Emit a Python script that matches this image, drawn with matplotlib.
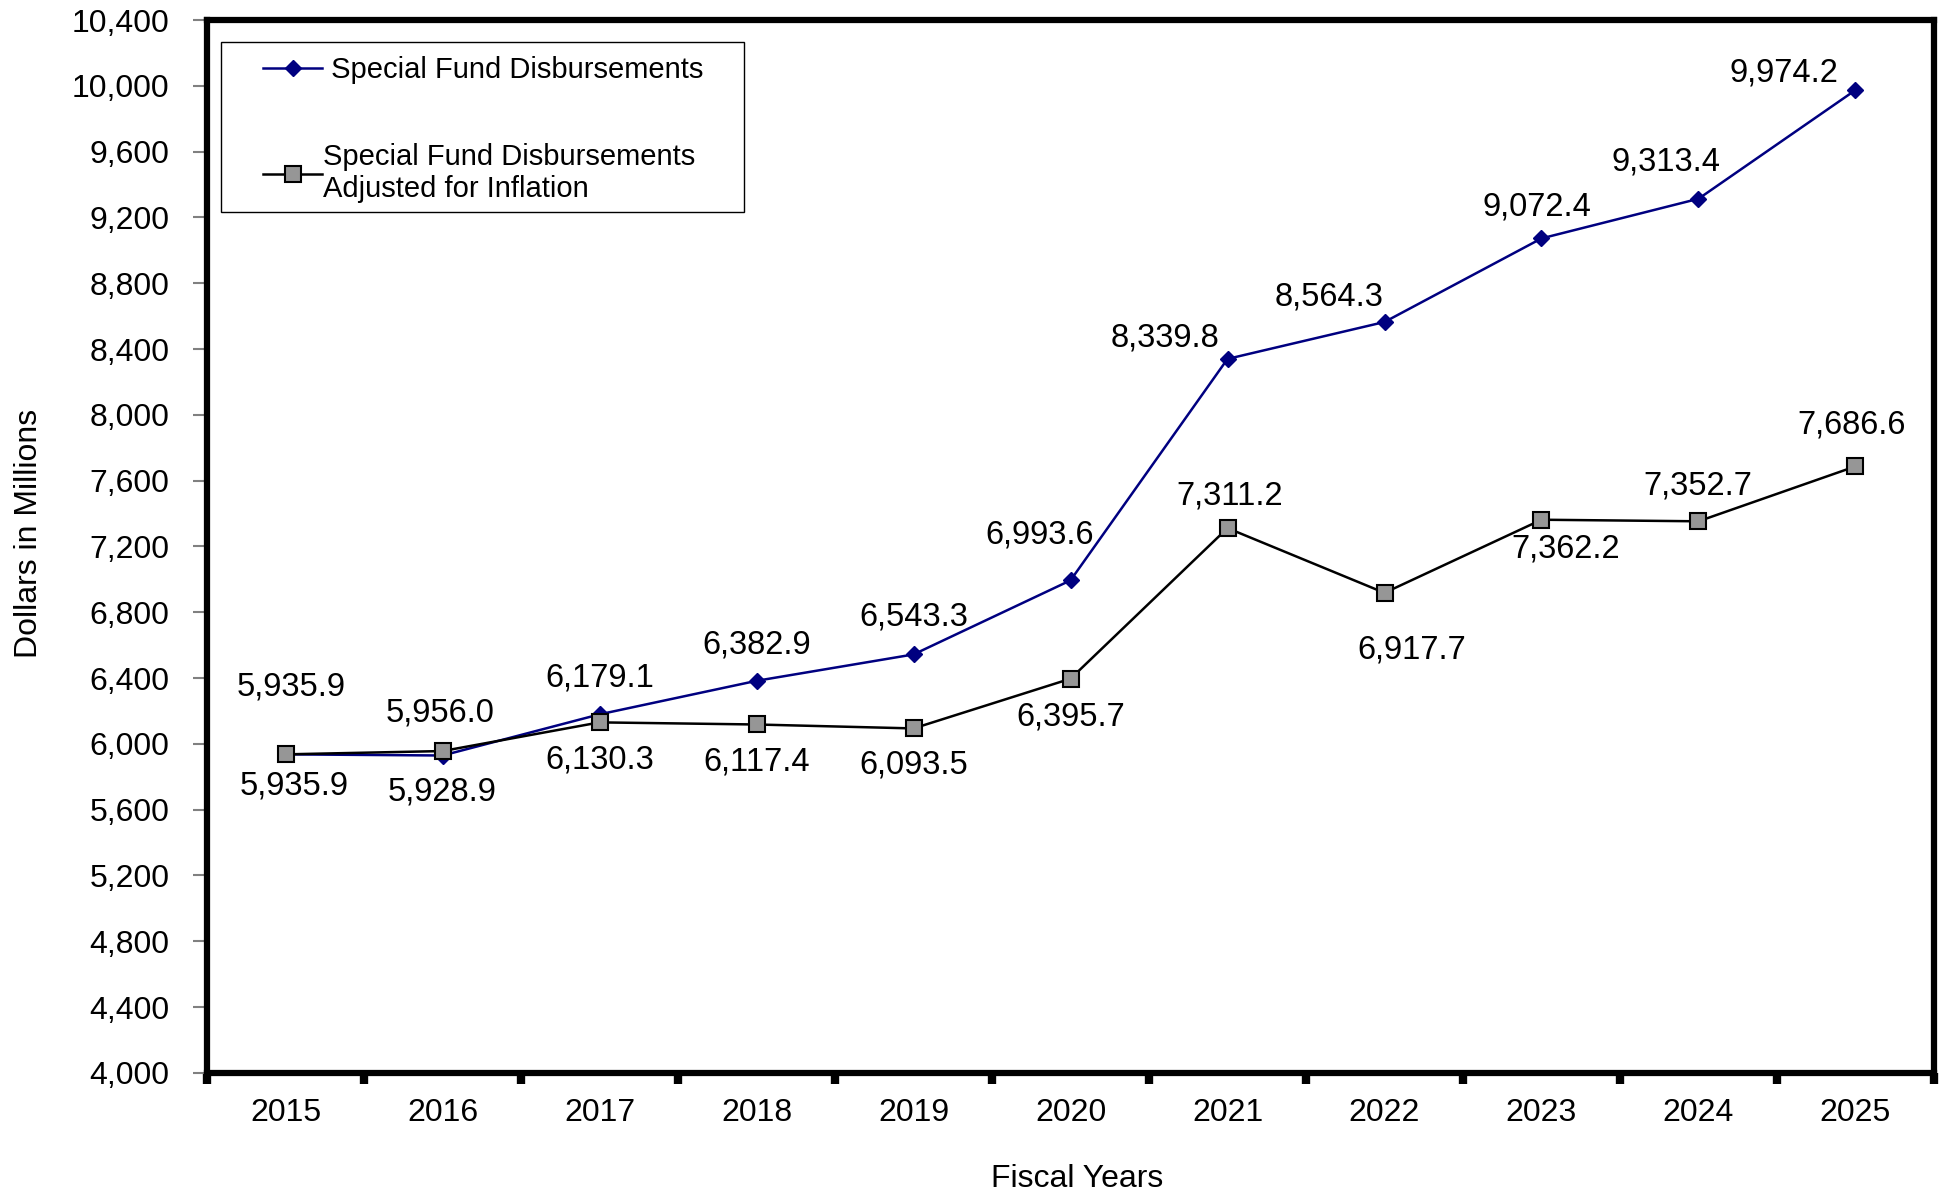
import numpy as np
import matplotlib.pyplot as plt
from matplotlib.patches import Rectangle
from matplotlib.ticker import FuncFormatter, MultipleLocator, FixedLocator

plt.rcParams['font.family'] = ['Liberation Sans', 'DejaVu Sans']

years = ['2015', '2016', '2017', '2018', '2019', '2020', '2021', '2022', '2023', '2024', '2025']
disb = [5935.9, 5928.9, 6179.1, 6382.9, 6543.3, 6993.6, 8339.8, 8564.3, 9072.4, 9313.4, 9974.2]
disb_adj = [5935.9, 5956.0, 6130.3, 6117.4, 6093.5, 6395.7, 7311.2, 6917.7, 7362.2, 7352.7, 7686.6]

# label offsets in pixels (dx, dy)
off_disb = [(6, 67), (0, -36), (0, 36), (0, 36), (0, 37), (-31, 45), (-63, 21),
            (-55, 25), (-5, 31), (-32, 37), (-72, 17)]
off_adj = [(9, -32), (-2, 38), (0, -38), (0, -38), (0, -37), (0, -38), (2, 32),
           (27, -57), (24, -29), (-1, 35), (-4, 41)]

fig = plt.figure(figsize=(19.48, 11.92), dpi=100)
ax = fig.add_axes([0.1063, 0.1, 0.8865, 0.8832])

x = np.arange(len(years))
ax.plot(x, disb, color='#000080', lw=1.8, marker='D', ms=8, mfc='#000080', mec='#000080',
        label=' Special Fund Disbursements', zorder=3)
ax.plot(x, disb_adj, color='black', lw=1.8, marker='s', ms=11, mfc='#969696', mec='black',
        mew=1.5, label='Special Fund Disbursements\nAdjusted for Inflation', zorder=4)

for i in range(len(years)):
    ax.annotate(f'{disb[i]:,.1f}', (x[i], disb[i]), xytext=off_disb[i], textcoords='offset pixels',
                ha='center', va='center', fontsize=23.5)
    ax.annotate(f'{disb_adj[i]:,.1f}', (x[i], disb_adj[i]), xytext=off_adj[i], textcoords='offset pixels',
                ha='center', va='center', fontsize=23.5)

ax.set_xlim(-0.5, len(years) - 0.5)
ax.set_ylim(4000, 10400)
ax.yaxis.set_major_locator(MultipleLocator(400))
ax.yaxis.set_major_formatter(FuncFormatter(lambda v, p: f'{v:,.0f}'))
ax.tick_params(axis='y', length=10, width=1.5, color='#808080', labelsize=23, pad=17)

ax.set_xticks(x)
ax.set_xticklabels(years)
ax.xaxis.set_minor_locator(FixedLocator(np.arange(-0.5, len(years), 1.0)))
ax.tick_params(axis='x', which='major', length=0, labelsize=23, pad=18)
ax.tick_params(axis='x', which='minor', length=8, width=6, color='black')

for s in ax.spines.values():
    s.set_linewidth(4.5)
    s.set_color('black')

ax.set_xlabel('Fiscal Years', fontsize=23, labelpad=26, x=0.504)
ax.set_ylabel('Dollars in Millions', fontsize=23, labelpad=20, y=0.512)

leg = ax.legend(loc='upper left', bbox_to_anchor=(0.0326, 0.9656), fontsize=21, frameon=False,
                borderpad=0, labelspacing=2.0, handlelength=2.0, handletextpad=0.05,
                borderaxespad=0)
ax.add_patch(Rectangle((0.0081, 0.8173), 0.3031, 0.1616, transform=ax.transAxes,
                       facecolor='none', edgecolor='black', lw=1.0, zorder=5))

fig.savefig('out.png', dpi=100)
